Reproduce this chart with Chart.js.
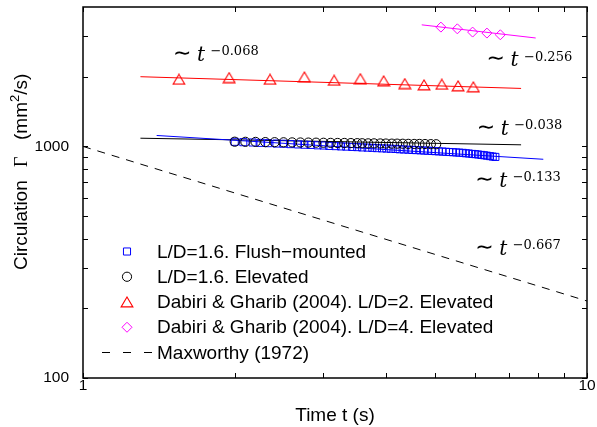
<!DOCTYPE html>
<html><head><meta charset="utf-8">
<script src="https://cdn.jsdelivr.net/npm/chart.js@4/dist/chart.umd.min.js"></script>
<style>html,body{margin:0;padding:0;background:#fff;}#wrap{width:597px;height:427px;}</style>
</head><body>
<div id="wrap"><canvas id="c" width="597" height="427"></canvas></div>
<script>
// ---- data ----
const flushT = [2.00,2.08,2.17,2.25,2.33,2.42,2.50,2.58,2.67,2.75,2.83,2.92,3.00,3.08,3.17,3.25,3.33,3.42,3.50,3.58,3.67,3.75,3.83,3.92,4.00,4.08,4.17,4.25,4.33,4.42,4.50,4.58,4.67,4.75,4.83,4.92,5.00,5.08,5.17,5.25,5.33,5.42,5.50,5.58,5.67,5.75,5.83,5.92,6.00,6.08,6.17,6.25,6.33,6.42,6.50,6.58];
const flushG = [1047,1043,1040,1036,1033,1029,1027,1023,1020,1017,1015,1011,1009,1005,1003,1000,998,995,993,990,988,986,983,981,979,977,975,972,970,968,966,964,962,960,958,956,954,952,950,948,946,944,942,940,938,934,932,928,926,923,919,916,912,908,904,901];
const elevT = [2.0,2.1,2.2,2.3,2.4,2.5,2.6,2.7,2.8,2.9,3.0,3.1,3.2,3.3,3.4,3.5,3.58,3.68,3.78,3.89,3.99,4.10,4.20,4.31,4.42,4.54,4.65,4.77,4.90,5.02];
const elevG = [1048,1047,1046,1044,1043,1042,1041,1040,1039,1038,1037,1036,1035,1035,1034,1033,1032,1031,1031,1030,1029,1028,1028,1027,1026,1025,1025,1024,1023,1022];
const dg2T = [1.55,1.95,2.35,2.75,3.15,3.55,3.95,4.35,4.75,5.15,5.55,5.95];
const dg2G = [1948,1981,1948,1994,1929,1961,1918,1867,1843,1854,1825,1807];
const dg4T = [5.13,5.53,5.93,6.33,6.73];
const dg4G = [3275,3220,3117,3086,3035];
const maxT = [1,10];
const maxG = [1000,215];
const fitFlushT = [1.40,8.19], fitFlushG = [1115,880];
const fitElevT = [1.30,7.40],  fitElevG = [1085,1016];
const fitDg2T = [1.30,7.40],   fitDg2G = [2000,1780];
const fitDg4T = [4.70,7.91],   fitDg4G = [3350,2939];
const xTickLabels = [1,10];
const yTickLabels = [100,1000];
const xMinorTicks = [2,3,4,5,6,7,8,9];
const yMinorTicks = [200,300,400,500,600,700,800,900,2000,3000];
const legendLabels = ['L/D=1.6. Flush\u2212mounted','L/D=1.6. Elevated','Dabiri & Gharib (2004). L/D=2. Elevated','Dabiri & Gharib (2004). L/D=4. Elevated','Maxworthy (1972)'];
const exponents = ['\u22120.068','\u22120.256','\u22120.038','\u22120.133','\u22120.667'];

// ---- helpers ----
const pts = (xs, ys) => xs.map((x, i) => ({x, y: ys[i]}));
const SANS = '"Liberation Sans", Arial, Helvetica, sans-serif';
function makeTri(color){
  const c = document.createElement('canvas'); c.width = 14; c.height = 12;
  const g = c.getContext('2d'); g.strokeStyle = color; g.lineWidth = 1.1;
  g.beginPath(); g.moveTo(7,1); g.lineTo(12.9,10.9); g.lineTo(1.1,10.9); g.closePath(); g.stroke();
  return c;
}
const triRed = makeTri('#ff0000');

const markerSet = (label, data, color, style, r) => ({
  label, data, showLine:false, borderColor:color, backgroundColor:'rgba(0,0,0,0)',
  pointStyle:style, pointRadius:r, pointBorderWidth:1, pointBorderColor:color, pointBackgroundColor:'rgba(0,0,0,0)'
});
const lineSet = (data, color, dash) => ({
  data, showLine:true, borderColor:color, borderWidth:1, pointRadius:0, borderDash:dash||[], fill:false, tension:0
});

const datasets = [
  markerSet(legendLabels[1], pts(elevT, elevG), '#000000', 'circle', 4.6),
  markerSet(legendLabels[0], pts(flushT, flushG), '#0000ff', 'rect', 5),
  markerSet(legendLabels[2], pts(dg2T, dg2G), '#ff0000', triRed, 6),
  markerSet(legendLabels[3], pts(dg4T, dg4G), '#ff00ff', 'rectRot', 5),
  lineSet(pts(fitFlushT, fitFlushG), '#0000ff'),
  lineSet(pts(fitElevT, fitElevG), '#000000'),
  lineSet(pts(fitDg2T, fitDg2G), '#ff0000'),
  lineSet(pts(fitDg4T, fitDg4G), '#ff00ff'),
  lineSet(pts(maxT, maxG), '#000000', [8,7])
];

// annotation anchors (data coordinates of the left/baseline of each label)
const annotations = [
  {t:1.509, g:2342, e:exponents[0]},
  {t:6.32,  g:2223, e:exponents[1]},
  {t:6.04,  g:1125, e:exponents[2]},
  {t:6.00,  g:669,  e:exponents[3]},
  {t:6.00,  g:341,  e:exponents[4]}
];

const framePlugin = {
  id:'frame',
  afterDatasetsDraw(chart){
    const {ctx, chartArea:a, scales:{x, y}} = chart;
    ctx.save(); ctx.strokeStyle = '#000'; ctx.lineWidth = 1;
    const L = 5;
    ctx.beginPath();
    for (const v of xTickLabels.concat(xMinorTicks)) {
      const px = Math.round(x.getPixelForValue(v)) + 0.5;
      ctx.moveTo(px, a.bottom); ctx.lineTo(px, a.bottom - L);
      ctx.moveTo(px, a.top); ctx.lineTo(px, a.top + L);
    }
    for (const v of yTickLabels.concat(yMinorTicks)) {
      const py = Math.round(y.getPixelForValue(v)) + 0.5;
      ctx.moveTo(a.left, py); ctx.lineTo(a.left + L, py);
      ctx.moveTo(a.right, py); ctx.lineTo(a.right - L, py);
    }
    ctx.stroke();
    ctx.lineWidth = 1.5;
    ctx.strokeRect(a.left, a.top, a.right - a.left, a.bottom - a.top);
    // annotations
    ctx.fillStyle = '#000'; ctx.textAlign = 'left'; ctx.textBaseline = 'alphabetic';
    for (const an of annotations) {
      const px = x.getPixelForValue(an.t), py = y.getPixelForValue(an.g);
      ctx.font = '22px "DejaVu Sans", sans-serif';
      ctx.fillText('\u223C', px, py - 1);
      ctx.font = 'italic 20px "DejaVu Serif", serif';
      ctx.fillText('t', px + 24, py);
      ctx.font = '13px "DejaVu Serif", serif';
      ctx.fillText(an.e, px + 37.5, py - 5.5);
    }
    // legend
    const lx = a.left + 44, tx = a.left + 74;
    ctx.font = '19px ' + SANS; ctx.textBaseline = 'middle';
    const order = [1, 0, 2, 3];
    for (let i = 0; i < 5; i++) {
      const ly = a.top + 244.5 + i * 25.25;
      if (i < 4) {
        const ds = chart.data.datasets[order[i]];
        ctx.strokeStyle = ds.pointBorderColor; ctx.lineWidth = 1; ctx.fillStyle = 'rgba(0,0,0,0)';
        Chart.helpers.drawPoint(ctx, {pointStyle: ds.pointStyle, radius: ds.pointRadius, borderWidth: 1, rotation: 0}, lx, ly);
      } else {
        ctx.strokeStyle = '#000'; ctx.lineWidth = 1; ctx.setLineDash([8,13]);
        ctx.beginPath(); ctx.moveTo(lx - 25, ly); ctx.lineTo(lx + 25, ly); ctx.stroke(); ctx.setLineDash([]);
      }
      ctx.fillStyle = '#000';
      ctx.fillText(legendLabels[i], tx, ly + 1);
    }
    ctx.restore();
  },
  afterDraw(chart){
    const {ctx, chartArea:a} = chart;
    ctx.save(); ctx.fillStyle = '#000'; ctx.textAlign = 'left'; ctx.textBaseline = 'alphabetic';
    ctx.translate(a.left - 56, a.bottom - 108); ctx.rotate(-Math.PI / 2);
    ctx.font = '19px ' + SANS; ctx.fillText('Circulation', 0, 0);
    ctx.font = '18px "Liberation Serif", serif'; ctx.fillText('\u0393', 103, 0);
    ctx.font = '19px ' + SANS; ctx.fillText('(mm', 130, 0);
    let w = ctx.measureText('(mm').width;
    ctx.font = '13px ' + SANS; ctx.fillText('2', 130 + w, -8);
    const w2 = ctx.measureText('2').width;
    ctx.font = '19px ' + SANS; ctx.fillText('/s)', 130 + w + w2, 0);
    ctx.restore();
  }
};

new Chart(document.getElementById('c'), {
  type:'line',
  data:{datasets},
  options:{
    responsive:false, animation:false, devicePixelRatio:1,
    layout:{padding:{top:4, right:10, left:0, bottom:0}},
    plugins:{legend:{display:false}, tooltip:{enabled:false}},
    scales:{
      x:{type:'logarithmic', min:1, max:10,
        grid:{display:false}, border:{display:false},
        afterBuildTicks: s => { s.ticks = xTickLabels.map(v => ({value:v})); },
        afterFit: s => { s.height = 49; s.paddingLeft = 0; s.paddingRight = 0; },
        ticks:{autoSkip:false, maxRotation:0, padding:-10, color:'#000', font:{family:SANS, size:15.5}, callback: v => String(v)},
        title:{display:true, text:'Time t (s)', color:'#000', font:{family:SANS, size:19}, padding:{top:0, bottom:0}}
      },
      y:{type:'logarithmic', min:100, max:4000,
        grid:{display:false}, border:{display:false},
        afterBuildTicks: s => { s.ticks = yTickLabels.map(v => ({value:v})); },
        afterFit: s => { s.width = 83; s.paddingTop = 0; s.paddingBottom = 0; },
        ticks:{autoSkip:false, padding:6, color:'#000', font:{family:SANS, size:15.5}, callback: v => String(v)},
        title:{display:false}
      }
    }
  },
  plugins:[framePlugin]
});
</script>
</body></html>
